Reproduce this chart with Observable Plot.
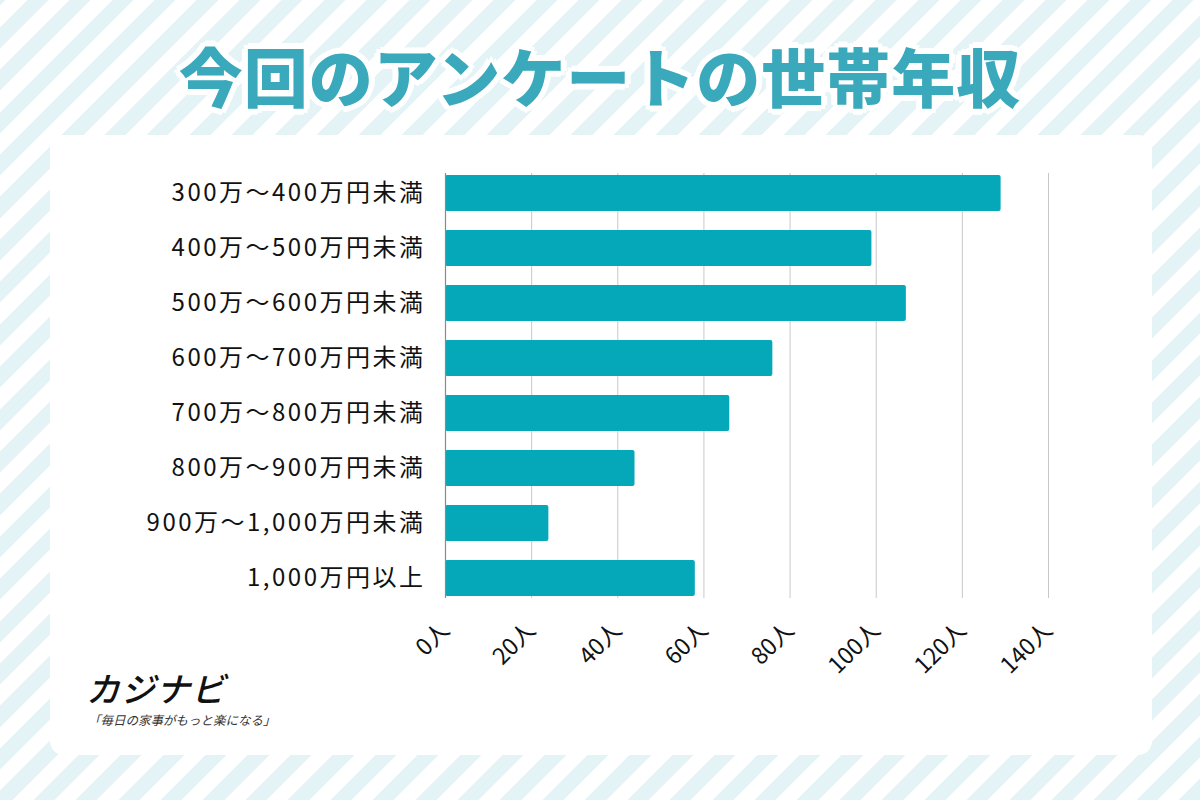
<!DOCTYPE html>
<html>
<head>
<meta charset="utf-8">
<script src="https://cdn.jsdelivr.net/npm/d3@7"></script>
<script src="https://cdn.jsdelivr.net/npm/@observablehq/plot@0.6"></script>
<style>
  html, body { margin: 0; padding: 0; }
  body {
    width: 1200px; height: 800px; position: relative; overflow: hidden;
    font-family: "Noto Sans CJK JP", "Noto Sans", sans-serif;
    background: repeating-linear-gradient(-45deg, #e3f3f6 0px, #e3f3f6 15px, #ffffff 15px, #ffffff 30px);
  }
  #panel { position: absolute; left: 50px; top: 135px; width: 1102px; height: 620px; background: #fff; border-radius: 14px; }
  #title {
    position: absolute; left: 0; top: 28px; width: 1200px; text-align: center;
    font-size: 64px; font-weight: 900; color: #3aa9bc; letter-spacing: 1px;
    text-shadow: 0 0 2px #fff, 3px 0 0 #fff, -3px 0 0 #fff, 0 3px 0 #fff, 0 -3px 0 #fff,
      4px 4px 0 #fff, -4px 4px 0 #fff, 4px -4px 0 #fff, -4px -4px 0 #fff,
      6px 0 0 #fff, -6px 0 0 #fff, 0 6px 0 #fff, 0 -6px 0 #fff;
  }
  #chart { position: absolute; left: 50px; top: 135px; }
  #chart svg g[aria-label="y-axis tick label"] text { letter-spacing: 2.5px; font-weight: 400; }
  #chart svg g[aria-label="x-axis tick label"] text { font-weight: 400; }
  #logo { position: absolute; left: 86px; top: 668px; }
  #logo .name { font-size: 34px; font-style: italic; font-weight: 500; color: #111; line-height: 40px; letter-spacing: 1px; }
  #logo .tag { font-size: 12.5px; font-style: italic; color: #333; line-height: 15px; margin-top: 4px; margin-left: 2px; }
</style>
</head>
<body>
<div id="panel"></div>
<div id="title">今回のアンケートの世帯年収</div>
<div id="chart"></div>
<div id="logo"><div class="name">カジナビ</div><div class="tag">「毎日の家事がもっと楽になる」</div></div>
<script>
const categories = [
  "300万～400万円未満",
  "400万～500万円未満",
  "500万～600万円未満",
  "600万～700万円未満",
  "700万～800万円未満",
  "800万～900万円未満",
  "900万～1,000万円未満",
  "1,000万円以上"
];
const counts = [129, 99, 107, 76, 66, 44, 24, 58];
const xTicks = [0, 20, 40, 60, 80, 100, 120, 140];

const data = categories.map((c, i) => ({label: c, count: counts[i]}));

const chart = Plot.plot({
  width: 1100,
  height: 560,
  marginLeft: 395,
  marginRight: 102,
  marginTop: 20,
  marginBottom: 79,
  style: {fontFamily: '"Noto Sans CJK JP", sans-serif', color: "#111", background: "transparent"},
  x: {domain: [0, 140], ticks: xTicks},
  y: {domain: categories, padding: 0.35},
  marks: [
    Plot.gridX(xTicks, {stroke: "#c8c8c8", strokeOpacity: 1, strokeWidth: 1, insetTop: 18, insetBottom: 18}),
    Plot.barX(data, {x: "count", y: "label", fill: "#05a8b9", rx: 2}),
    Plot.ruleX([0], {stroke: "#8a8a8a", strokeWidth: 1.2, insetTop: 18, insetBottom: 18}),
    Plot.axisY({tickSize: 0, tickPadding: 20, fontSize: 24, label: null}),
    Plot.axisX({ticks: xTicks, tickFormat: d => d + "人", tickRotate: -45, tickSize: 0, tickPadding: 10, fontSize: 23, label: null})
  ]
});
document.getElementById("chart").appendChild(chart);
</script>
</body>
</html>
